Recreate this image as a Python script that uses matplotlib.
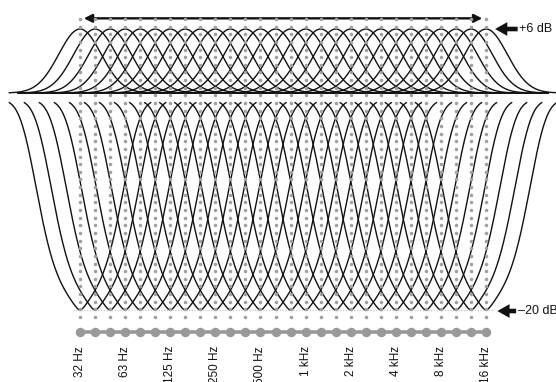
import numpy as np
import matplotlib.pyplot as plt

plt.rcParams['font.family'] = ['Liberation Sans', 'DejaVu Sans']

# 1/3-octave graphic EQ bands
band_freqs = [31.5, 40, 50, 63, 80, 100, 125, 160, 200, 250, 315, 400, 500, 630,
              800, 1000, 1250, 1600, 2000, 2500, 3150, 4000, 5000, 6300, 8000,
              10000, 12500, 16000]
tick_labels = ['32 Hz', '63 Hz', '125 Hz', '250 Hz', '500 Hz', '1 kHz', '2 kHz',
               '4 kHz', '8 kHz', '16 kHz']
boost_db = 6
cut_db = -20

x = np.arange(len(band_freqs))  # band index, 3 per octave
d = np.linspace(-4.7, 4.7, 400)  # offset from band centre, in bands


def boost_shape(d):
    return np.exp(-d ** 2 / (2 * 1.41 ** 2))


def cut_shape(d):
    return np.exp(-(np.sqrt(d ** 2 + 0.04) - 0.2) / 9.07 - (d / 3.35) ** 4)


fig = plt.figure(figsize=(5.56, 3.82), dpi=100)
xlim = (-5.32, 31.65)

ax_top = fig.add_axes([0, 1 - 97 / 382, 1, 97 / 382])
ax_top.set_xlim(xlim)
ax_top.set_ylim(-0.375, 8.72)
ax_top.axis('off')

ax_bot = fig.add_axes([0, 0, 1, 1 - 97 / 382])
ax_bot.set_xlim(xlim)
ax_bot.set_ylim(-26.86, 0.286)
ax_bot.axis('off')

ax_bg = fig.add_axes([0, 0, 1, 1])
ax_bg.set_xlim(xlim)
ax_bg.set_ylim(382, 0)
ax_bg.axis('off')
ax_bg.patch.set_alpha(0)

dot_col = '#a0a0a0'

# curves
for xi in x:
    ax_top.plot(xi + d, boost_db * boost_shape(d), color='#111111', lw=1.0)
    ax_bot.plot(xi + d, cut_db * cut_shape(d), color='#111111', lw=1.0)

# 0 dB reference line of the boost section
ax_top.plot([x[0] - 4.1, x[-1] + 4.1], [0, 0], color='#111111', lw=1.4)
# -20 dB dotted line
ax_bot.plot([x[0] - 0.45, x[-1] + 0.45], [cut_db, cut_db], color='#c8c8c8',
            lw=0.9, ls=(0, (1, 1.2)))

# frequency range arrow
ax_top.annotate('', xy=(x[0] + 0.25, 7), xytext=(x[-1] - 0.25, 7),
                arrowprops=dict(arrowstyle='<|-|>', color='#111111', lw=1.7,
                                mutation_scale=12, shrinkA=0, shrinkB=0))

# level markers
arrow_style = dict(arrowstyle='simple,head_width=0.9,head_length=0.8,tail_width=0.3',
                   fc='#111111', ec='none', mutation_scale=11, shrinkA=0, shrinkB=0)
ax_top.annotate('', xy=(x[-1] + 0.6, boost_db), xytext=(x[-1] + 2.1, boost_db),
                arrowprops=arrow_style)
ax_top.text(x[-1] + 2.2, boost_db, '+6 dB', fontsize=9, va='center', ha='left',
            color='#111111')
ax_bot.annotate('', xy=(x[-1] + 0.75, cut_db - 0.1), xytext=(x[-1] + 2.0, cut_db - 0.1),
                arrowprops=arrow_style)
ax_bot.text(x[-1] + 2.15, cut_db - 0.1, '\u201320 dB', fontsize=9, va='center',
            ha='left', color='#111111')

# dot grid
rows = np.linspace(19, 317, 40)
gx, gy = np.meshgrid(x, rows)
ax_bg.scatter(gx.ravel(), gy.ravel(), s=6.5, color=dot_col, linewidths=0, zorder=3)

# sliders
ax_bg.plot([x[0], x[-1]], [332, 332], color='#999999', lw=2.6, zorder=2)
ax_bg.plot(x, [332] * len(x), 'o', color='#999999', ms=6.8, mec='none', zorder=3)

# band labels
for xi, lbl in zip(x[::3], tick_labels):
    ax_bg.text(xi, 346, lbl, rotation=90, ha='center', va='top', fontsize=8.5,
               color='#111111')

fig.savefig('out.png', dpi=100)
